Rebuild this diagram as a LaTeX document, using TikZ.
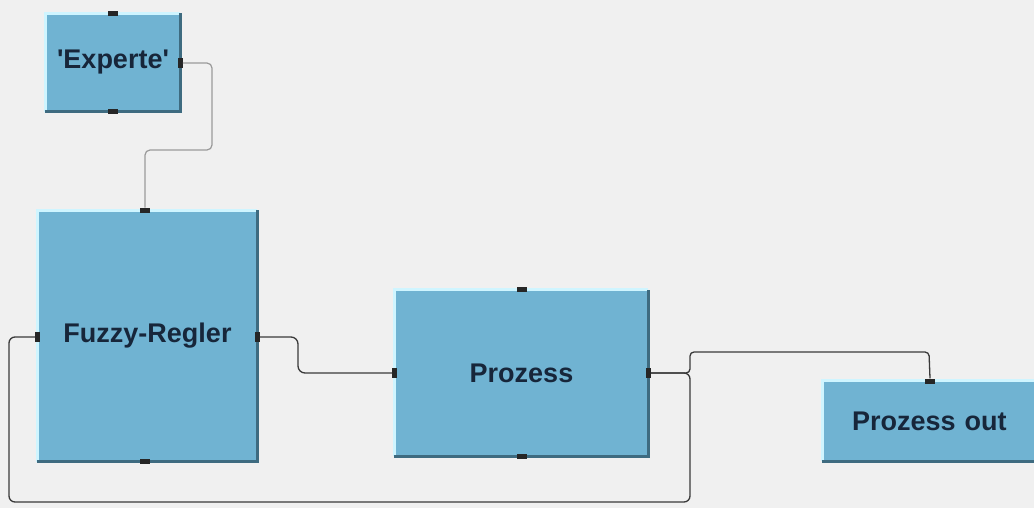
\documentclass[tikz,border=0pt]{standalone}
\usepackage{fontspec}
\setmainfont{Liberation Sans}
\definecolor{bg}{HTML}{F0F0F0}
\definecolor{boxblue}{HTML}{70B3D2}
\definecolor{boxshade}{HTML}{3E6B80}
\definecolor{boxlight}{HTML}{CFF5FF}
\definecolor{txt}{HTML}{17263A}
\definecolor{wire}{HTML}{3A3A3A}
\definecolor{wirelight}{HTML}{9A9A9A}
\tikzset{
  block/.style={rectangle, fill=boxblue, inner sep=0pt, text=txt,
    font=\bfseries\fontsize{27}{30}\selectfont},
  hilite/.style={draw=boxlight, line width=3pt},
  shade/.style={draw=boxshade, line width=3pt},
  porth/.style={rectangle, fill=black!85, inner sep=0pt, minimum width=10pt, minimum height=5pt},
  portv/.style={rectangle, fill=black!85, inner sep=0pt, minimum width=5pt, minimum height=10pt},
  conn/.style={draw=wire, line width=1.3pt, rounded corners=5pt},
  connlight/.style={draw=wirelight, line width=1.2pt, rounded corners=5pt},
}
\begin{document}
\begin{tikzpicture}[x=1pt,y=-1pt]
  \fill[bg] (0,0) rectangle (1034,508);
  \useasboundingbox (0,0) rectangle (1034,508);

  % blocks
  \node[block, minimum width=134pt, minimum height=98pt] (ex) at (113,62.5) {\textquotesingle Experte\textquotesingle};
  \node[block, minimum width=219pt, minimum height=251pt] (fz) at (147.5,336) {Fuzzy-Regler};
  \node[block, minimum width=253pt, minimum height=166pt] (pr) at (521.5,373) {Prozess};
  \node[block, minimum width=240pt, minimum height=80pt, text width=240pt, align=left] (po) at (943,421) {\hspace*{29pt}Prozess out};

  % raised edges
  \foreach \b in {ex,fz,pr,po}{
    \draw[hilite] (\b.south west) -- (\b.north west) -- (\b.north east);
    \draw[shade] ([xshift=-1pt]\b.south west) -- (\b.south east) -- (\b.north east);
  }

  % ports
  \node[porth] (ex-t) at (ex.north) {};
  \node[porth] (ex-b) at (ex.south) {};
  \node[portv] (ex-r) at ([yshift=-0.5pt]ex.east) {};
  \node[porth] (fz-t) at ([xshift=-2.5pt]fz.north) {};
  \node[porth] (fz-b) at ([xshift=-2.5pt]fz.south) {};
  \node[portv] (fz-l) at ([yshift=-1pt]fz.west) {};
  \node[portv] (fz-r) at ([yshift=-1pt]fz.east) {};
  \node[porth] (pr-t) at (pr.north) {};
  \node[porth] (pr-b) at (pr.south) {};
  \node[portv] (pr-l) at (pr.west) {};
  \node[portv] (pr-r) at (pr.east) {};
  \node[porth] (po-t) at (930,381) {};

  % connection points
  \coordinate (m1) at (212,150);
  \coordinate (m2) at (298,354);
  \coordinate (j) at (690,373);
  \coordinate (up) at (929,352);
  \coordinate (lo) at (690,502);
  \coordinate (lb) at (9,502);

  % wires
  \draw[connlight] (ex-r.east) -| (m1) -| (fz-t.north);
  \draw[conn, rounded corners=7pt] (fz-r.east) -| (m2) |- (pr-l.west);
  \draw[conn, rounded corners=4pt] (pr-r.east) -- (j) |- (up) -- (po-t.north);
  \draw[conn, rounded corners=6pt] (pr-r.east) -- (j) -- (lo) -- (lb) |- (fz-l.west);
\end{tikzpicture}
\end{document}
